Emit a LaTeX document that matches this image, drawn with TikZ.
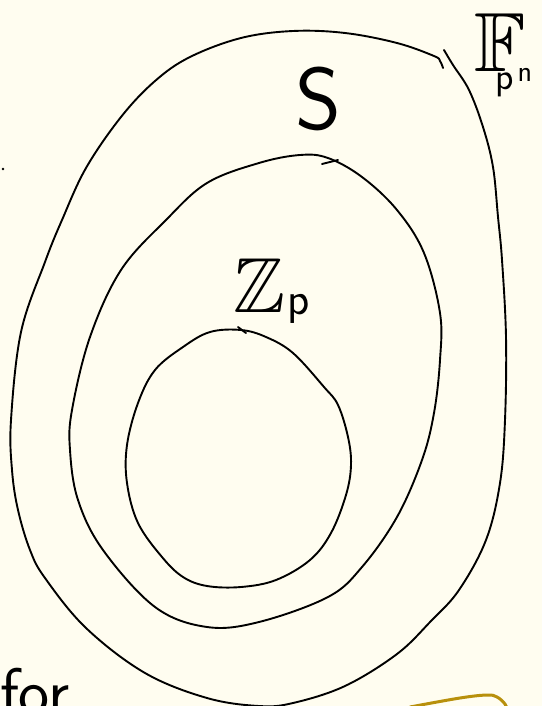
\documentclass[tikz,border=0pt]{standalone}
\usepackage{amssymb}
\definecolor{paper}{RGB}{255,253,240}
\definecolor{gold}{RGB}{184,144,12}
\tikzset{
  stroke/.style={line width=1.9pt, line cap=round, line join=round, black},
  lbl/.style={inner sep=0pt, outer sep=0pt, black},
}
\begin{document}
\begin{tikzpicture}[x=1pt,y=-1pt]
\useasboundingbox (0,0) rectangle (542,706);
\clip (0,0) rectangle (542,706);
\fill[paper] (0,0) rectangle (542,706);

% outer region F_{p^n}
\draw[stroke] plot[smooth, tension=0.6] coordinates {
 (443,68) (440,61) (434,56) (397,43) (345,33) (293,31) (241,38) (190,57) (155,81)
 (121,117) (86,168) (62,220) (45,262) (21,332) (11,420) (12,470) (18,510) (30,550)
 (45,578) (86,628) (145,673) (207,698) (259,706) (293,703) (345,686) (397,654)
 (431,621) (459,590) (486,540) (500,483) (505,420) (506,337) (502,260) (498,217)
 (493,167) (483,127) (469,90) (453,65) (444,50)};

% middle region S
\draw[stroke] plot[smooth cycle, tension=0.6] coordinates {
 (300,155) (328,158) (362,177) (397,210) (424,253) (440,313) (440,360) (434,413)
 (422,460) (397,517) (362,567) (328,597) (259,622) (207,627) (155,607) (103,550)
 (78,500) (70,450) (72,410) (90,337) (121,270) (166,220) (207,183) (259,163)};
\draw[stroke] (322,164) -- (338,160);

% inner region Z_p
\draw[stroke] plot[smooth cycle, tension=0.6] coordinates {
 (241,330) (266,337) (293,353) (324,387) (338,405) (348,437) (351,465) (346,495)
 (331,533) (310,560) (276,580) (241,587) (207,586) (183,577) (162,557) (138,523)
 (127,483) (127,445) (138,403) (155,370) (183,347) (210,332)};
\draw[stroke] (238,327) -- (246,333);

% labels
\node[lbl] (lS) at (318,99) {\fontsize{88}{88}\selectfont\sffamily S};
\node[lbl, anchor=base west] (lZ) at (233,312)
  {\fontsize{78}{78}\selectfont$\mathbb{Z}$\hspace{2pt}\fontsize{46}{46}\selectfont\sffamily\raisebox{-2pt}{p}};
\node[lbl, anchor=base west] (lF) at (474,72)
  {\fontsize{84}{84}\selectfont$\mathbb{F}$\hspace{-30pt}\fontsize{38}{38}\selectfont\sffamily\raisebox{-18pt}{p}\hspace{4pt}\fontsize{30}{30}\selectfont\raisebox{-10pt}{n}};
\node[lbl, anchor=base west] (lfor) at (0,714) {\fontsize{66}{66}\selectfont\sffamily for};

% stray marks
\fill[black] (3,169) circle (1.4pt);
\draw[gold, line width=3pt, line cap=round] plot[smooth, tension=0.6] coordinates {
 (410,707) (460,698) (487,695) (497,697) (505,704) (508,712)};
\end{tikzpicture}
\end{document}
